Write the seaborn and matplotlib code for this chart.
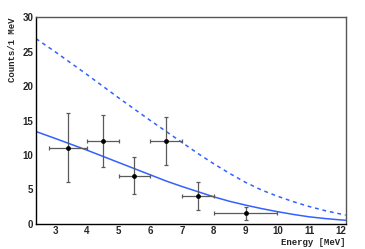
"""
Energy spectrum: measured counts with two model curves (ROOT-like style).
"""
import numpy as np
import pandas as pd
import matplotlib
matplotlib.use('Agg')
import matplotlib.pyplot as plt
import seaborn as sns
from matplotlib.ticker import MultipleLocator

# measured points
energy = [3.4, 4.5, 5.5, 6.5, 7.5, 9.0]
counts = [11.0, 12.0, 7.0, 12.0, 4.0, 1.5]
energy_err = [0.6, 0.5, 0.5, 0.5, 0.5, 1.0]
counts_err_low = [5.0, 3.8, 2.7, 3.5, 2.0, 1.0]
counts_err_high = [5.1, 3.8, 2.65, 3.55, 2.0, 1.0]

# model curves
model_energy = [2.4, 3.0, 4.0, 5.0, 6.0, 6.5, 7.0, 7.5, 8.0, 8.5, 9.0,
                9.5, 10.0, 10.5, 11.0, 11.5, 12.0, 12.15]
fit_counts = [13.4, 12.4, 10.7, 8.9, 7.1, 6.2, 5.4, 4.65, 3.9, 3.25, 2.7,
              2.2, 1.75, 1.35, 1.0, 0.75, 0.55, 0.5]
expected_counts = [26.9, 25.0, 21.7, 18.3, 15.0, 13.4, 11.8, 10.2, 8.7, 7.3,
                   6.0, 4.9, 4.0, 3.2, 2.5, 1.9, 1.4, 1.25]

sns.set_style('white')
plt.rcParams['font.family'] = ['Liberation Sans', 'DejaVu Sans']

models = pd.DataFrame({
    'Energy': model_energy * 2,
    'Counts': fit_counts + expected_counts,
    'Model': ['fit'] * len(model_energy) + ['expected'] * len(model_energy),
})
points = pd.DataFrame({'Energy': energy, 'Counts': counts})

fig = plt.figure(figsize=(3.65, 2.49), dpi=100)
ax = fig.add_axes([0.0986, 0.1016, 0.8484, 0.8289])

blue = '#3360ff'
sns.lineplot(data=models, x='Energy', y='Counts', style='Model',
             dashes={'fit': '', 'expected': (2.5, 2.5)},
             color=blue, linewidth=1.1, legend=False, ax=ax)

ax.errorbar(energy, counts, xerr=energy_err,
            yerr=[counts_err_low, counts_err_high],
            fmt='none', ecolor='#5a5a5a', elinewidth=0.9,
            capsize=1.5, capthick=0.9, zorder=3)
sns.scatterplot(data=points, x='Energy', y='Counts', color='black',
                s=12, edgecolor='black', linewidth=0, zorder=4, ax=ax)

ax.set_xlim(2.4, 12.15)
ax.set_ylim(0, 30)

ax.xaxis.set_major_locator(MultipleLocator(1))
ax.xaxis.set_minor_locator(MultipleLocator(0.2))
ax.yaxis.set_major_locator(MultipleLocator(5))
ax.yaxis.set_minor_locator(MultipleLocator(1))
ax.tick_params(which='major', direction='in', length=6, width=0.8,
               labelsize=7, pad=2, top=False, right=False)
ax.tick_params(which='minor', direction='in', length=3, width=0.8,
               top=False, right=False)
for lab in ax.get_xticklabels() + ax.get_yticklabels():
    lab.set_fontweight('bold')

for side in ['left', 'bottom']:
    ax.spines[side].set_color('black')
    ax.spines[side].set_linewidth(1.0)
for side in ['top', 'right']:
    ax.spines[side].set_color('#555555')
    ax.spines[side].set_linewidth(1.0)

ax.set_xlabel('Energy [MeV]', fontsize=6.5, fontweight='bold',
              family='Liberation Mono', loc='right', labelpad=1)
ax.set_ylabel('Counts/1 MeV', fontsize=6.5, fontweight='bold',
              family='Liberation Mono', loc='top', labelpad=4)

fig.savefig('out.png', dpi=100)
